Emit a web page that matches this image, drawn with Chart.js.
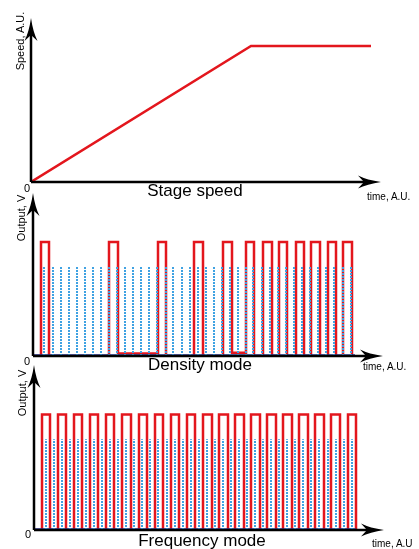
<!DOCTYPE html>
<html>
<head>
<meta charset="utf-8">
<script src="https://cdn.jsdelivr.net/npm/chart.js@4.4.1/dist/chart.umd.min.js"></script>
<style>
  body { margin: 0; background: #fff; }
  #wrap { position: relative; width: 419px; height: 549px; overflow: hidden; font-family: "Liberation Sans", Arial, sans-serif; }
  #wrap canvas { position: absolute; left: 0; top: 0; }
  .lbl { position: absolute; white-space: nowrap; color: #000; line-height: 1; }
  .rot { transform: translate(-50%, -50%) rotate(-90deg); font-size: 11px; }
  .cap { font-size: 17px; transform: translateX(-50%); }
  .unit { font-size: 10px; }
  .zero { font-size: 11px; }
</style>
</head>
<body>
<div id="wrap">
  <canvas id="speed" width="419" height="549"></canvas>
  <canvas id="density" width="419" height="549"></canvas>
  <canvas id="frequency" width="419" height="549"></canvas>

  <div class="lbl rot" style="left:20px;top:41px;">Speed, A.U.</div>
  <div class="lbl zero" style="left:24px;top:183px;">0</div>
  <div class="lbl cap" style="left:195px;top:182px;">Stage speed</div>
  <div class="lbl unit" style="left:367px;top:192px;">time, A.U.</div>

  <div class="lbl rot" style="left:21px;top:218px;">Output, V</div>
  <div class="lbl zero" style="left:24px;top:356px;">0</div>
  <div class="lbl cap" style="left:200px;top:356px;">Density mode</div>
  <div class="lbl unit" style="left:363px;top:362px;">time, A.U.</div>

  <div class="lbl rot" style="left:22px;top:393px;">Output, V</div>
  <div class="lbl zero" style="left:25px;top:529px;">0</div>
  <div class="lbl cap" style="left:202px;top:532px;">Frequency mode</div>
  <div class="lbl unit" style="left:372px;top:539px;">time, A.U</div>
</div>
<script>
// stage speed profile (time, speed)
const speedTime = [0, 220, 340];
const speedValue = [0, 83, 83];

// density mode: red trigger pulses (on / off times, level between pulses)
const densityOn = [8, 76, 125, 161, 190, 213, 230, 246, 263, 278, 295, 310];
const densityOff = [16, 85, 133, 170, 199, 221, 239, 254, 271, 287, 303, 319];
const densityLow = [0, 1.5, 0, 0, 2, 0, 0, 0, 0, 0, 0, 0];
const densityBlue = [11, 20, 28, 36, 44, 52, 60, 68, 76, 84, 92, 100, 108, 116, 124, 133, 140, 149, 157, 165,
  173, 181, 189, 197, 205, 213, 220, 229, 237, 245, 253, 261, 269, 277, 285, 293, 301, 310, 318];

// frequency mode: regular red pulses
const freqOn = [8, 24, 40, 56, 72, 88, 105, 121, 137, 153, 169, 185, 201, 217, 233, 249, 265, 281, 297, 314];
const freqOff = [16, 32, 48, 64, 80, 97, 113, 129, 145, 161, 178, 194, 210, 226, 242, 258, 274, 290, 306, 322];
const freqBlue = [12, 20, 28, 36, 44, 52, 60, 68, 76, 84, 92, 100, 108, 116, 124, 133, 141, 149, 157, 165,
  173, 181, 189, 197, 205, 213, 221, 229, 237, 245, 253, 261, 269, 277, 285, 294, 302, 310, 318];

const pulseHigh = 70;
const blueHigh = 55;

const RED = '#e3161d';
const BLUE = '#3fa2e2';

function pulseTrain(on, off, low) {
  const pts = [{ x: 0, y: 0 }];
  on.forEach((t, i) => {
    const before = i > 0 && low ? low[i - 1] : 0;
    pts.push({ x: t, y: before });
    pts.push({ x: t, y: pulseHigh });
    pts.push({ x: off[i], y: pulseHigh });
    pts.push({ x: off[i], y: low ? low[i] : 0 });
  });
  return pts;
}

function blueLines(xs) {
  const pts = [];
  xs.forEach(x => {
    pts.push({ x: x, y: 0 }, { x: x, y: blueHigh }, { x: x, y: null });
  });
  return pts;
}

// axes with arrow heads
const arrowAxes = {
  id: 'arrowAxes',
  afterDraw(chart) {
    const { ctx, chartArea: a } = chart;
    ctx.save();
    ctx.strokeStyle = '#000';
    ctx.fillStyle = '#000';
    ctx.lineWidth = 2.5;
    ctx.beginPath();
    ctx.moveTo(a.left, a.bottom);
    ctx.lineTo(a.left, a.top + 10);
    ctx.moveTo(a.left, a.bottom);
    ctx.lineTo(a.right - 10, a.bottom);
    ctx.stroke();
    // up arrow
    ctx.beginPath();
    ctx.moveTo(a.left, a.top);
    ctx.quadraticCurveTo(a.left + 2, a.top + 14, a.left + 6.5, a.top + 23);
    ctx.lineTo(a.left, a.top + 17);
    ctx.lineTo(a.left - 6.5, a.top + 23);
    ctx.quadraticCurveTo(a.left - 2, a.top + 14, a.left, a.top);
    ctx.fill();
    // right arrow
    ctx.beginPath();
    ctx.moveTo(a.right, a.bottom);
    ctx.quadraticCurveTo(a.right - 14, a.bottom - 2, a.right - 23, a.bottom - 6.5);
    ctx.lineTo(a.right - 17, a.bottom);
    ctx.lineTo(a.right - 23, a.bottom + 6.5);
    ctx.quadraticCurveTo(a.right - 14, a.bottom + 2, a.right, a.bottom);
    ctx.fill();
    ctx.restore();
  }
};

function makeChart(id, pad, datasets) {
  return new Chart(document.getElementById(id), {
    type: 'line',
    data: { datasets: datasets },
    options: {
      responsive: false,
      animation: false,
      layout: { padding: pad },
      plugins: { legend: { display: false }, tooltip: { enabled: false } },
      elements: { point: { radius: 0 }, line: { tension: 0 } },
      scales: {
        x: { type: 'linear', min: 0, max: 350, display: false },
        y: { type: 'linear', min: 0, max: 100, display: false }
      }
    },
    plugins: [arrowAxes]
  });
}

makeChart('speed', { left: 31, right: 38, top: 18, bottom: 367 }, [
  { data: speedTime.map((t, i) => ({ x: t, y: speedValue[i] })), borderColor: RED, borderWidth: 2.5 }
]);

makeChart('density', { left: 33, right: 36, top: 193, bottom: 193 }, [
  { data: blueLines(densityBlue), borderColor: BLUE, borderWidth: 2, borderDash: [2, 1], spanGaps: false },
  { data: [{ x: 0, y: 0.4 }, { x: 322, y: 0.4 }], borderColor: '#2a3fa0', borderWidth: 2 },
  { data: pulseTrain(densityOn, densityOff, densityLow), borderColor: RED, borderWidth: 2.5 }
]);

makeChart('frequency', { left: 34, right: 35, top: 365, bottom: 19 }, [
  { data: blueLines(freqBlue), borderColor: BLUE, borderWidth: 2, borderDash: [2, 1], spanGaps: false },
  { data: [{ x: 0, y: 0.4 }, { x: 322, y: 0.4 }], borderColor: '#2a3fa0', borderWidth: 2 },
  { data: pulseTrain(freqOn, freqOff, null), borderColor: RED, borderWidth: 2.5 }
]);
</script>
</body>
</html>
